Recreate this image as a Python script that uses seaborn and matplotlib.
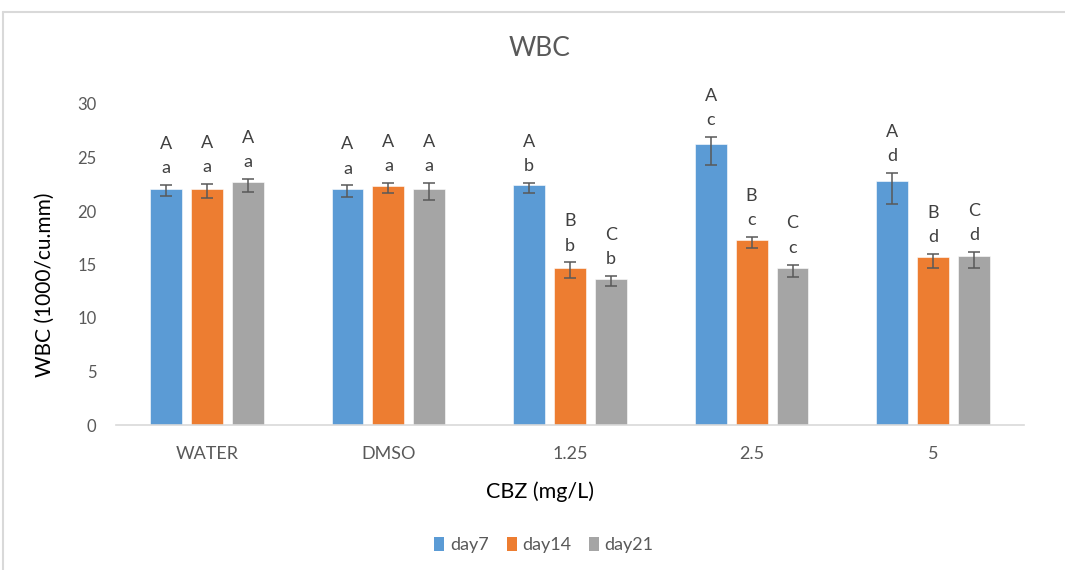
import numpy as np
import pandas as pd
import matplotlib
matplotlib.use("Agg")
import matplotlib.pyplot as plt
from matplotlib.lines import Line2D
from matplotlib.patches import Patch
import seaborn as sns

# ---- data ----
groups = ["WATER", "DMSO", "1.25", "2.5", "5"]
series = ["day7", "day14", "day21"]

day7 = [22.1, 22.1, 22.4, 26.3, 22.8]
day14 = [22.1, 22.3, 14.7, 17.3, 15.7]
day21 = [22.7, 22.1, 13.65, 14.65, 15.8]

# error bar extents (above / below the bar top)
day7_err_up = [0.33, 0.3, 0.25, 0.6, 0.75]
day7_err_dn = [0.7, 0.8, 0.75, 2.0, 2.15]
day14_err_up = [0.4, 0.3, 0.5, 0.25, 0.3]
day14_err_dn = [0.9, 0.65, 1.0, 0.8, 1.0]
day21_err_up = [0.3, 0.5, 0.25, 0.35, 0.4]
day21_err_dn = [0.9, 1.1, 0.65, 0.85, 1.1]

# significance letters: upper = between days, lower = between groups
day7_upper = ["A", "A", "A", "A", "A"]
day14_upper = ["A", "A", "B", "B", "B"]
day21_upper = ["A", "A", "C", "C", "C"]
lower_letters = ["a", "a", "b", "c", "d"]

colors = ["#5B9BD5", "#ED7D31", "#A5A5A5"]

values = [day7, day14, day21]
err_up = [day7_err_up, day14_err_up, day21_err_up]
err_dn = [day7_err_dn, day14_err_dn, day21_err_dn]
upper = [day7_upper, day14_upper, day21_upper]

df = pd.DataFrame({
    "group": np.tile(groups, len(series)),
    "series": np.repeat(series, len(groups)),
    "value": np.concatenate(values),
})

# ---- figure ----
sns.set_theme(style="white")
plt.rcParams["font.family"] = ["Lato", "DejaVu Sans"]

fig = plt.figure(figsize=(10.65, 5.70), dpi=100)
ax = fig.add_axes([116 / 1065, 1 - 425 / 570, 908 / 1065, 321 / 570])

sns.barplot(data=df, x="group", y="value", hue="series", order=groups,
            hue_order=series, palette=colors, width=0.676, gap=0.22,
            errorbar=None, saturation=1, legend=False, ax=ax,
            edgecolor="white", linewidth=0.4)

bar_containers = list(ax.containers)
for k, cont in enumerate(bar_containers):
    xs = np.array([p.get_x() + p.get_width() / 2 for p in cont.patches])
    ys = np.array(values[k])
    up = np.array(err_up[k])
    dn = np.array(err_dn[k])
    ax.errorbar(xs, ys, yerr=[dn, up], fmt="none", ecolor="#595959",
                elinewidth=1.1, capsize=4.2, capthick=1.1, zorder=5)
    for x, y, u, U, L in zip(xs, ys, up, upper[k], lower_letters):
        ax.annotate(L, (x, y + u), xytext=(0, 8.5), textcoords="offset points",
                    ha="center", va="baseline", fontsize=13, color="#404040",
                    annotation_clip=False)
        ax.annotate(U, (x, y + u), xytext=(0, 26), textcoords="offset points",
                    ha="center", va="baseline", fontsize=13, color="#404040",
                    annotation_clip=False)

ax.set_ylim(0, 30)
ax.set_xlim(-0.5, len(groups) - 0.5)
ax.set_yticks(range(0, 31, 5))
ax.tick_params(axis="y", labelsize=12, labelcolor="#595959", length=0, pad=14)
ax.tick_params(axis="x", labelsize=13, labelcolor="#595959", length=0, pad=15)

for side in ["top", "right", "left"]:
    ax.spines[side].set_visible(False)
ax.spines["bottom"].set_color("#D9D9D9")
ax.spines["bottom"].set_linewidth(1.2)
ax.grid(False)

ax.set_ylabel("WBC (1000/cu.mm)", fontsize=15, color="black")
ax.yaxis.set_label_coords(-0.078, 0.436)
ax.set_xlabel("CBZ (mg/L)", fontsize=15.5, color="black")
ax.xaxis.set_label_coords(0.467, -0.209)
ax.xaxis.label.set_va("center")
ax.yaxis.label.set_va("center")

fig.text(540 / 1065, 1 - 48 / 570, "WBC", ha="center", va="center",
         fontsize=19, color="#595959")

handles = [Patch(facecolor=c, edgecolor="none") for c in colors]
fig.legend(handles, series, loc="center", bbox_to_anchor=(544 / 1065, 1 - 545 / 570),
           ncol=3, frameon=False, fontsize=13, handlelength=0.55, handleheight=0.8,
           handletextpad=0.3, columnspacing=1.0, labelcolor="#595959")

# chart border
fig.add_artist(Line2D([3 / 1065, 3 / 1065], [0, 1 - 12 / 570], transform=fig.transFigure,
                      color="#D9D9D9", lw=1.5))
fig.add_artist(Line2D([3 / 1065, 1], [1 - 12 / 570, 1 - 12 / 570], transform=fig.transFigure,
                      color="#D9D9D9", lw=1.5))

fig.savefig("out.png", dpi=100)
